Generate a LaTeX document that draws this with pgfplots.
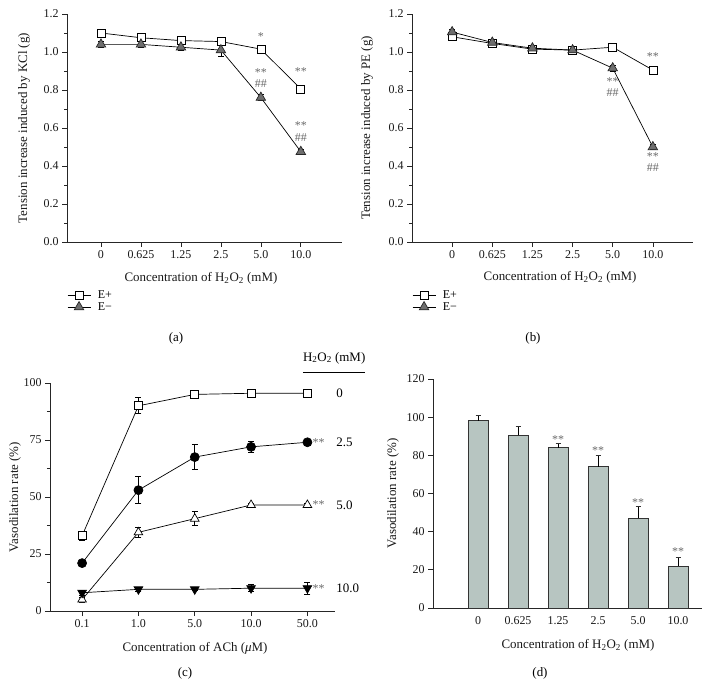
\documentclass[border=0pt]{standalone}
\usepackage{fontspec}
\setmainfont{Liberation Serif}
\usepackage{pgfplots}
\pgfplotsset{compat=1.18}
\definecolor{barfill}{RGB}{183,197,193}
\definecolor{trifill}{RGB}{110,110,110}
\definecolor{astcol}{RGB}{105,105,105}
\tikzset{ast/.style={text=astcol, font=\fontsize{12}{13}\selectfont, inner sep=0pt}}
\pgfplotsset{
  panel/.style={
    scale only axis, axis lines=left, axis line style={-, black!85, line width=0.8bp},
    enlargelimits=false, clip=false,
    tick style={black!85, line width=0.7bp},
    major tick length=5bp, minor tick length=3bp, tick align=outside,
    tick label style={font=\fontsize{12}{14}\selectfont, text=black!90},
    label style={font=\fontsize{13}{15}\selectfont, text=black!90},
    /pgf/number format/assume math mode=true,
    every axis plot/.append style={line width=0.7bp, black},
    error bars/error bar style={line width=0.7bp, black},
    error bars/error mark options={rotate=90, mark size=3bp, line width=0.7bp, black},
  },
  leg/.style={
    legend style={draw=none, fill=none, font=\fontsize{12}{13}\selectfont, cells={anchor=west}, row sep=0bp, inner sep=0pt,
      nodes={inner xsep=7bp, inner ysep=1bp}},
    legend image code/.code={\draw[mark repeat=2,mark phase=2,##1] plot coordinates {(0bp,0bp)(11.5bp,0bp)(23bp,0bp)};},
  },
}
\begin{document}
\begin{tikzpicture}
\useasboundingbox (0,0) rectangle (710bp,700bp);
% ---------------- (a)
\begin{axis}[panel, leg, at={(67bp,458bp)}, anchor=south west, width=275bp, height=228bp,
  xmin=-0.85, xmax=6.03, ymin=0, ymax=1.2,
  xtick={0,1,2,3,4,5}, xticklabels={0,0.625,1.25,2.5,5.0,10.0},
  ytick={0,0.2,0.4,0.6,0.8,1.0,1.2}, minor y tick num=1,
  yticklabel style={/pgf/number format/.cd, fixed, fixed zerofill, precision=1},
  xlabel={Concentration of H\textsubscript{2}O\textsubscript{2} (mM)},
  ylabel={Tension increase induced by KCl (g)},
  xlabel style={at={(axis description cs:0.487,-0.158)}, anchor=center},
  ylabel style={at={(axis description cs:-0.156,0.5)}, anchor=center},
  legend style={at={(axis description cs:0,-0.21)}, anchor=north west},
]
\addplot[mark=square*, mark size=4bp, mark options={fill=white, draw=black},
  error bars/.cd, y dir=both, y explicit] coordinates {
  (0,1.100) +- (0,0.015) (1,1.075) +- (0,0.015) (2,1.060) +- (0,0.015)
  (3,1.055) +- (0,0.015) (4,1.015) +- (0,0.015) (5,0.805) +- (0,0.015)};
\addlegendentry{E+}
\addplot[mark=triangle*, mark size=5.5bp, mark options={fill=trifill, draw=black!85},
  error bars/.cd, y dir=both, y explicit] coordinates {
  (0,1.040) +- (0,0.015) (1,1.040) +- (0,0.015) (2,1.025) +- (0,0.015)
  (3,1.010) +- (0,0.035) (4,0.760) +- (0,0.015) (5,0.475) +- (0,0.015)};
\addlegendentry{E−}
\node[ast] at (axis cs:4,1.079) {*};
\node[ast] at (axis cs:5,0.895) {**};
\node[ast] at (axis cs:4,0.893) {**};
\node[ast] at (axis cs:4,0.834) {\#\#};
\node[ast] at (axis cs:5,0.613) {**};
\node[ast] at (axis cs:5,0.550) {\#\#};
\end{axis}
% ---------------- (b)
\begin{axis}[panel, leg, at={(412bp,458bp)}, anchor=south west, width=281bp, height=228bp,
  xmin=-1.0, xmax=6.0, ymin=0, ymax=1.2,
  xtick={0,1,2,3,4,5}, xticklabels={0,0.625,1.25,2.5,5.0,10.0},
  ytick={0,0.2,0.4,0.6,0.8,1.0,1.2}, minor y tick num=1,
  yticklabel style={/pgf/number format/.cd, fixed, fixed zerofill, precision=1},
  xlabel={Concentration of H\textsubscript{2}O\textsubscript{2} (mM)},
  ylabel={Tension increase induced by PE (g)},
  xlabel style={at={(axis description cs:0.527,-0.154)}, anchor=center},
  ylabel style={at={(axis description cs:-0.16,0.5)}, anchor=center},
  legend style={at={(axis description cs:0,-0.21)}, anchor=north west},
]
\addplot[mark=square*, mark size=4bp, mark options={fill=white, draw=black},
  error bars/.cd, y dir=both, y explicit] coordinates {
  (0,1.080) +- (0,0.015) (1,1.045) +- (0,0.015) (2,1.015) +- (0,0.015)
  (3,1.010) +- (0,0.015) (4,1.025) +- (0,0.015) (5,0.905) +- (0,0.015)};
\addlegendentry{E+}
\addplot[mark=triangle*, mark size=5.5bp, mark options={fill=trifill, draw=black!85},
  error bars/.cd, y dir=both, y explicit] coordinates {
  (0,1.105) +- (0,0.015) (1,1.050) +- (0,0.015) (2,1.020) +- (0,0.015)
  (3,1.010) +- (0,0.015) (4,0.915) +- (0,0.015) (5,0.500) +- (0,0.015)};
\addlegendentry{E−}
\node[ast] at (axis cs:5,0.974) {**};
\node[ast] at (axis cs:4,0.843) {**};
\node[ast] at (axis cs:4,0.787) {\#\#};
\node[ast] at (axis cs:5,0.448) {**};
\node[ast] at (axis cs:5,0.392) {\#\#};
\end{axis}
% ---------------- (c)
\begin{axis}[panel, at={(50bp,89bp)}, anchor=south west, width=285bp, height=228bp,
  xmin=-0.57, xmax=4.49, ymin=0, ymax=100,
  xtick={0,1,2,3,4}, xticklabels={0.1,1.0,5.0,10.0,50.0},
  ytick={0,25,50,75,100}, minor y tick num=1,
  xlabel={Concentration of ACh (\textit{μ}M)},
  ylabel={Vasodilation rate (\%)},
  xlabel style={at={(axis description cs:0.509,-0.162)}, anchor=center},
  ylabel style={at={(axis description cs:-0.123,0.5)}, anchor=center},
]
\addplot[mark=square*, mark size=4bp, mark options={fill=white, draw=black},
  error bars/.cd, y dir=both, y explicit] coordinates {
  (0,33) +- (0,2) (1,90) +- (0,3.5) (2,95) +- (0,1.5) (3,95.5) +- (0,1.5) (4,95.5) +- (0,1.5)};
\addplot[mark=*, mark size=4.5bp, mark options={fill=black, draw=black},
  error bars/.cd, y dir=both, y explicit] coordinates {
  (0,21) +- (0,0.5) (1,53) +- (0,6) (2,67.5) +- (0,5.5) (3,72) +- (0,2.5) (4,74) +- (0,1.5)};
\addplot[mark=triangle*, mark size=5bp, mark options={fill=white, draw=black},
  error bars/.cd, y dir=both, y explicit] coordinates {
  (0,5) +- (0,1) (1,34.5) +- (0,2) (2,40.5) +- (0,3) (3,46.5) +- (0,0.5) (4,46.5) +- (0,0.5)};
\addplot[mark=triangle*, mark size=5bp, mark options={fill=black, draw=black, rotate=180},
  error bars/.cd, y dir=both, y explicit] coordinates {
  (0,8) +- (0,1) (1,9.5) +- (0,1) (2,9.5) +- (0,0.5) (3,10) +- (0,1.5) (4,10) +- (0,2.5)};
\node[ast] at (axis cs:4.2,74) {**};
\node[ast] at (axis cs:4.2,46.5) {**};
\node[ast] at (axis cs:4.2,10) {**};
\node[anchor=west, inner sep=0pt, font=\fontsize{13}{15}\selectfont] at (axis cs:4.51,95.5) {0};
\node[anchor=west, inner sep=0pt, font=\fontsize{13}{15}\selectfont] at (axis cs:4.51,74) {2.5};
\node[anchor=west, inner sep=0pt, font=\fontsize{13}{15}\selectfont] at (axis cs:4.51,46.5) {5.0};
\node[anchor=west, inner sep=0pt, font=\fontsize{13}{15}\selectfont] at (axis cs:4.51,10) {10.0};
\node[anchor=west, inner sep=0pt, font=\fontsize{13}{15}\selectfont] at (axis cs:3.92,111) {H\textsubscript{2}O\textsubscript{2} (mM)};
\draw[black, line width=0.8bp] (axis cs:3.92,104.8) -- (axis cs:5.02,104.8);
\end{axis}
% ---------------- (d)
\begin{axis}[panel, at={(433bp,92bp)}, anchor=south west, width=269bp, height=229bp,
  xmin=-1.125, xmax=5.6, ymin=0, ymax=120,
  xtick={0,1,2,3,4,5}, xticklabels={0,0.625,1.25,2.5,5.0,10.0},
  x tick style={draw=none},
  ytick={0,20,40,60,80,100,120},
  ybar, bar width=20bp,
  xlabel={Concentration of H\textsubscript{2}O\textsubscript{2} (mM)},
  ylabel={Vasodilation rate (\%)},
  xlabel style={at={(axis description cs:0.539,-0.162)}, anchor=center},
  ylabel style={at={(axis description cs:-0.149,0.5)}, anchor=center},
]
\addplot[fill=barfill, draw=black!80, line width=1bp,
  error bars/.cd, y dir=plus, y explicit,
  error mark options={rotate=90, mark size=2.5bp, line width=0.8bp, black!80}] coordinates {
  (0,98) +- (0,3) (1,90.5) +- (0,4.5) (2,84) +- (0,2) (3,74) +- (0,6) (4,47) +- (0,6) (5,22) +- (0,4.5)};
\node[ast] at (axis cs:2,88) {**};
\node[ast] at (axis cs:3,82.3) {**};
\node[ast] at (axis cs:4,55) {**};
\node[ast] at (axis cs:5,29.3) {**};
\end{axis}
% captions
\node[font=\fontsize{13}{15}\selectfont] at (176bp,362bp) {(a)};
\node[font=\fontsize{13}{15}\selectfont] at (533bp,362bp) {(b)};
\node[font=\fontsize{13}{15}\selectfont] at (185bp,27bp) {(c)};
\node[font=\fontsize{13}{15}\selectfont] at (540bp,27bp) {(d)};
\end{tikzpicture}
\end{document}
